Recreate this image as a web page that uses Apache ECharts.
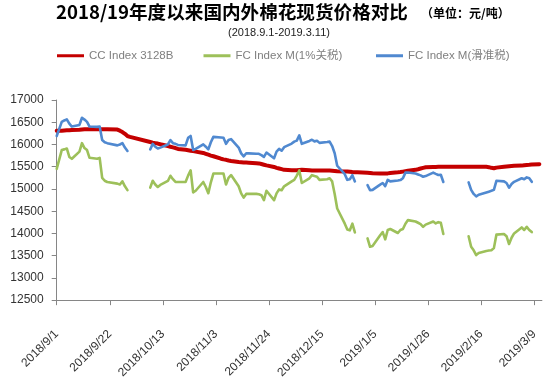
<!DOCTYPE html>
<html><head><meta charset="utf-8">
<script src="https://cdn.jsdelivr.net/npm/echarts@6/dist/echarts.min.js"></script>
<style>html,body{margin:0;padding:0;background:#fff}#c{width:554px;height:381px}</style>
</head><body><div id="c"></div>
<script>
// Trading days (CC Index published; FC gaps = null)
const dates = [
'2018/9/1','2018/9/3','2018/9/4','2018/9/5','2018/9/6','2018/9/7','2018/9/10','2018/9/11','2018/9/12','2018/9/13','2018/9/14',
'2018/9/17','2018/9/18','2018/9/19','2018/9/20','2018/9/21','2018/9/25','2018/9/26','2018/9/27','2018/9/28','2018/9/29','2018/9/30',
'2018/10/8','2018/10/9','2018/10/10','2018/10/11','2018/10/12','2018/10/15','2018/10/16','2018/10/17','2018/10/18','2018/10/19',
'2018/10/22','2018/10/23','2018/10/24','2018/10/25','2018/10/26','2018/10/29','2018/10/30','2018/10/31',
'2018/11/1','2018/11/2','2018/11/5','2018/11/6','2018/11/7','2018/11/8','2018/11/9','2018/11/12','2018/11/13','2018/11/14','2018/11/15','2018/11/16',
'2018/11/19','2018/11/20','2018/11/21','2018/11/22','2018/11/23','2018/11/26','2018/11/27','2018/11/28','2018/11/29','2018/11/30',
'2018/12/3','2018/12/4','2018/12/5','2018/12/6','2018/12/7','2018/12/10','2018/12/11','2018/12/12','2018/12/13','2018/12/14',
'2018/12/17','2018/12/18','2018/12/19','2018/12/20','2018/12/21','2018/12/24','2018/12/25','2018/12/26','2018/12/27','2018/12/28','2018/12/29',
'2019/1/2','2019/1/3','2019/1/4','2019/1/7','2019/1/8','2019/1/9','2019/1/10','2019/1/11','2019/1/14','2019/1/15','2019/1/16','2019/1/17','2019/1/18',
'2019/1/21','2019/1/22','2019/1/23','2019/1/24','2019/1/25','2019/1/28','2019/1/29','2019/1/30','2019/1/31',
'2019/2/1','2019/2/2','2019/2/3','2019/2/11','2019/2/12','2019/2/13','2019/2/14','2019/2/15','2019/2/18','2019/2/19','2019/2/20','2019/2/21','2019/2/22',
'2019/2/25','2019/2/26','2019/2/27','2019/2/28','2019/3/1','2019/3/4','2019/3/5','2019/3/6','2019/3/7','2019/3/8','2019/3/11'
];
const ccIndex = [
16310,16310,16315,16318,16320,16325,16330,16335,16340,16340,16340,
16340,16340,16340,16340,16340,16335,16310,16280,16240,16190,16170,
16055,16040,16030,16020,16005,15965,15950,15935,15920,15900,
15880,15870,15860,15850,15840,15810,15790,15770,
15750,15735,15680,15665,15655,15640,15630,15605,15600,15595,15593,15590,
15580,15575,15560,15545,15530,15495,15475,15460,15445,15430,
15420,15418,15420,15425,15430,15420,15416,15416,15416,15416,
15416,15415,15410,15405,15400,15395,15390,15385,15380,15378,15375,
15365,15360,15355,15346,15346,15346,15350,15360,15374,15380,15390,15400,15410,
15430,15444,15460,15475,15487,15494,15496,15497,15497,
15497,15497,15497,15497,15497,15497,15497,15497,15497,15490,15475,15465,15480,
15500,15505,15510,15515,15520,15525,15535,15540,15543,15548,15557
];
const fcTariff1 = [
15452,15875,15890,15910,15720,15678,15840,16030,15920,15875,15700,
15678,15699,15250,15185,15157,15120,15100,15171,15060,14974,null,
15030,15185,15100,15044,15090,15180,15297,15220,15157,15157,
15157,15300,15417,14924,14960,15157,15044,14903,
15150,15347,15347,15347,15100,15250,15312,15060,14900,14805,14889,14889,
14889,14880,14860,14748,14960,14748,14900,14990,14970,15060,
15171,15206,15300,15416,15134,15240,15310,15290,15275,15205,
15219,15240,15170,14888,14560,14219,14090,14070,14219,14022,null,
13888,13700,13720,13960,14030,13867,14078,14100,14010,14078,14100,14219,14300,
14268,14240,14210,14149,14198,14268,14225,14254,14240,
13987,null,null,13938,13700,13621,13515,13560,13607,13615,13621,13670,13973,
13987,13938,13762,13903,14000,14135,14078,14149,14078,14030,null
];
const fcSliding = [
16192,16508,16540,16565,16470,16403,16440,16600,16560,16508,16403,
16395,16403,16100,16050,16030,15980,16000,16030,15930,15854,null,
15889,16014,15950,15909,15930,16000,16100,16030,16014,15990,
15980,16150,16192,15875,15900,16002,15950,15889,
16050,16171,16156,16150,16014,16100,16121,15930,15800,15734,15804,15800,
15790,15790,15760,15720,15818,15690,15840,15900,15860,15940,
16020,16064,16086,16205,16015,16080,16106,16070,16085,16036,
16055,16064,15965,15803,15522,15332,15205,15219,15310,15170,null,
15085,14972,14980,15099,15134,15064,15205,15170,15190,15200,15240,15367,15370,
15346,15325,15305,15275,15290,15367,15340,15315,15320,
15156,null,null,15148,14980,14888,14832,14870,14923,14940,14958,14980,15184,
15170,15134,15029,15110,15160,15240,15219,15261,15240,15160,null
];
const seriesNames = ['CC Index 3128B','FC Index M(1%关税)','FC Index M(滑准税)'];
const tickLabels = ['2018/9/1','2018/9/22','2018/10/13','2018/11/3','2018/11/24','2018/12/15','2019/1/5','2019/1/26','2019/2/16','2019/3/9'];
const axisEndDate = '2019/3/12';
const yMin = 12500, yMax = 17000, yStep = 500;

const DAY = 86400000;
function toDay(s){const p=s.split('/').map(Number);return Math.round((Date.UTC(p[0],p[1]-1,p[2])-Date.UTC(2018,8,1))/DAY);}
const xs = dates.map(toDay);
const tickDays = tickLabels.map(toDay);
function pairs(vals){return xs.map((x,i)=>[x, vals[i]]);}

const latin = "'Liberation Sans','Noto Sans CJK SC',sans-serif";
const colors = ['#C40000','#9DC05A','#5089D0'];
const widths = [4,2.6,2.6];
const legendLeft = [57,203.5,376];

const chart = echarts.init(document.getElementById('c'), null, {renderer:'canvas'});
chart.setOption({
  animation:false,
  backgroundColor:'#fff',
  title:[
    {text:'2018/19年度以来国内外棉花现货价格对比', left:56, top:3, padding:0,
     textStyle:{fontSize:18.6,fontWeight:'bold',color:'#000',fontFamily:"'Noto Sans CJK SC',sans-serif"}},
    {text:'（单位：元/吨）', left:421, top:7, padding:0,
     textStyle:{fontSize:12,fontWeight:'bold',color:'#000',fontFamily:"'Noto Sans CJK SC',sans-serif"}},
    {text:'(2018.9.1-2019.3.11)', left:228, top:27, padding:0,
     textStyle:{fontSize:11,fontWeight:'normal',color:'#222',fontFamily:latin}}
  ],
  legend: seriesNames.map((n,i)=>({
    data:[n], left:legendLeft[i], top:50, padding:0, itemWidth:27, itemHeight:3, icon:'rect',
    textStyle:{fontSize:11.5,color:'#7f7f7f',fontFamily:latin}
  })),
  grid:{left:56.7, right:12.1, top:100, bottom:67.7, containLabel:false},
  xAxis:{
    type:'value', min:0, max:toDay(axisEndDate), interval:21,
    axisLine:{show:true,lineStyle:{color:'#868686',width:1}},
    axisTick:{show:true,inside:false,length:5,lineStyle:{color:'#868686'},customValues:tickDays},
    axisLabel:{rotate:45,fontSize:12,color:'#333',fontFamily:latin,margin:32,customValues:tickDays,
      formatter:v=>{const k=tickDays.indexOf(v);return k>=0?tickLabels[k]:'';}},
    splitLine:{show:false}
  },
  yAxis:{
    type:'value', min:yMin, max:yMax, interval:yStep,
    axisLine:{show:true,lineStyle:{color:'#868686',width:1}},
    axisTick:{show:true,inside:false,length:5,lineStyle:{color:'#868686'}},
    axisLabel:{fontSize:12,color:'#333',fontFamily:latin,margin:13,formatter:v=>String(v)},
    splitLine:{show:false}
  },
  series:[ccIndex,fcTariff1,fcSliding].map((vals,i)=>({
    name:seriesNames[i], type:'line', data:pairs(vals), showSymbol:false, symbol:'none',
    connectNulls:false, color:colors[i],
    lineStyle:{color:colors[i],width:widths[i],join:'round',cap:'round'},
    itemStyle:{color:colors[i]}
  }))
});
</script></body></html>
